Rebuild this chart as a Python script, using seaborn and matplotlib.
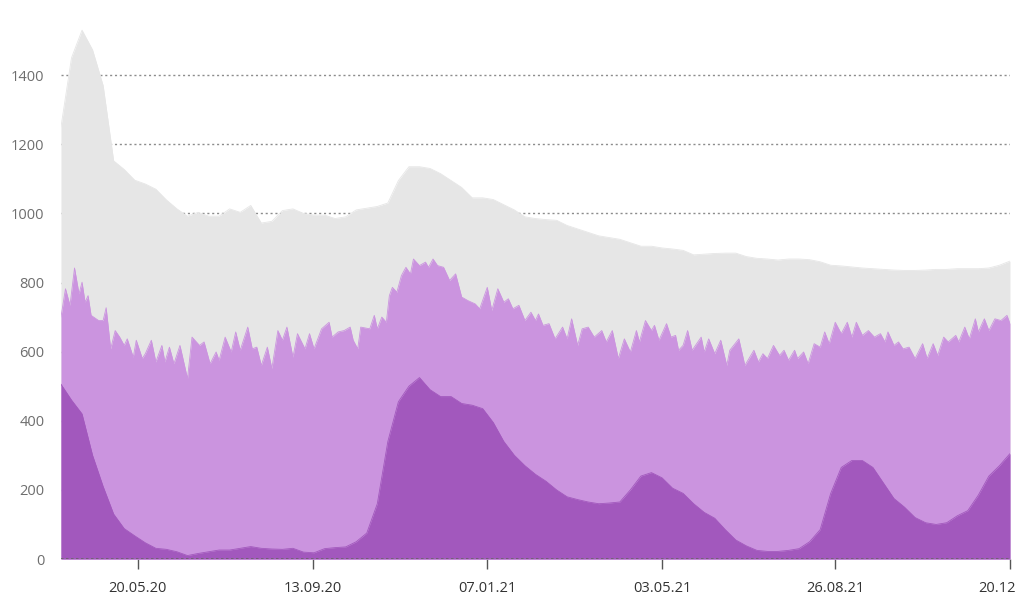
import pandas as pd
import matplotlib.pyplot as plt
import matplotlib.transforms as mtransforms
import seaborn as sns

# ----------------------------
# readings: weekly for total / covid, peaks and dips for occupied
# ----------------------------
START = "2020-03-30"

beds_total = [
    1250, 1450, 1530, 1473, 1370, 1152, 1127, 1096, 1085, 1070, 1039, 1013,
    992, 1003, 992, 992, 1013, 1003, 1023, 972, 977, 1008, 1013,
    1000, 995, 995, 985, 990, 1010, 1015, 1020, 1030, 1095, 1135, 1135,
    1130, 1115, 1095, 1075, 1045, 1045, 1040, 1025, 1010, 990, 985,
    982, 980, 965, 955, 945, 935, 930, 925, 915, 905, 905, 900,
    897, 893, 880, 882, 884, 885, 885, 875, 870, 868, 865,
    868, 868, 866, 860, 850, 848, 845, 842, 840, 838, 836, 835,
    835, 836, 838, 838, 840, 840, 840, 842, 850, 862,
]

beds_covid = [
    506, 460, 420, 300, 210, 130, 88, 67, 47, 31, 28, 21,
    10, 16, 21, 26, 26, 31, 36, 31, 29, 28, 31,
    20, 18, 30, 33, 35, 50, 75, 160, 340, 455, 500, 525,
    490, 470, 470, 450, 445, 435, 395, 340, 300, 270, 245,
    225, 200, 180, 172, 165, 160, 162, 165, 200, 240, 250, 235,
    205, 190, 160, 135, 118, 85, 55, 38, 25, 22, 22,
    25, 30, 50, 85, 190, 265, 285, 285, 265, 220, 175, 150,
    120, 105, 100, 105, 125, 140, 185, 240, 270, 305,
]

occupied_day = [
    0, 3, 6, 9, 12, 14, 16, 18, 20, 25, 28, 30, 33, 36, 39, 42, 44, 48, 50,
    54, 56, 60, 63, 67, 69, 72, 75, 79, 84, 87, 92, 95, 99, 103, 105, 109,
    113, 116, 119, 124, 127, 130, 133, 137, 140, 144, 147, 150, 154, 157,
    162, 165, 168, 173, 178, 180, 184, 188, 192, 194, 197, 199, 205,
    208, 210, 213, 216, 218, 220, 223, 226, 229, 232, 234, 238, 242, 244,
    247, 250, 254, 258, 262, 266, 270, 275, 278, 283, 286, 290, 294, 297,
    300, 304, 308, 312, 315, 317, 320, 324, 328, 333, 336, 339, 343, 346,
    350, 354, 359, 362, 366, 370, 374, 378, 382, 384, 388, 392, 394, 397,
    402, 405, 408, 410, 413,
    416, 419, 425, 427, 430, 434, 438, 442, 444, 450, 454, 458, 460, 463,
    466, 469, 473, 477, 480, 483, 487, 489, 493, 496, 500, 504, 507, 510,
    514, 518, 522, 525, 528, 532, 536, 540, 544, 547, 549, 553, 556, 559,
    563, 567, 572, 575, 579, 582, 586, 589, 594, 596, 600, 603, 607, 609,
    613, 616, 620, 624, 628, 630,
]
beds_occupied = [
    700, 782, 734, 842, 767, 801, 743, 762, 705, 690, 690, 727, 608, 661,
    642, 618, 637, 584, 633, 580, 594, 633, 570, 618, 570, 613, 565, 618,
    522, 642, 618, 628, 565, 599, 575, 642, 599, 657, 604, 671, 608, 613,
    560, 613, 551, 661, 633, 671, 584, 652, 608, 652, 608, 666, 685, 642,
    657, 661, 671, 633, 608, 671, 666,
    705, 666, 700, 685, 762, 786, 772, 820, 844, 825, 868, 849, 859, 844,
    868, 849, 844, 806, 825, 758, 748, 738, 724, 786, 719, 782, 743, 753,
    724, 734, 690, 714, 690, 709, 676, 681, 637, 671, 637, 695, 618, 666,
    671, 642, 661, 628, 661, 580, 637, 599, 661, 628, 690, 661, 676, 633,
    681, 642, 647, 604, 618,
    661, 604, 642, 599, 637, 594, 633, 560, 604, 637, 560, 589, 604, 570,
    594, 580, 618, 589, 604, 575, 604, 580, 599, 565, 623, 613, 657, 623,
    685, 652, 685, 642, 685, 647, 661, 642, 652, 628, 657, 618, 628, 608,
    613, 580, 623, 580, 623, 589, 642, 628, 647, 628, 671, 637, 695, 657,
    695, 661, 695, 690, 705, 681,
]

tick_dates = ["2020-05-20", "2020-09-13", "2021-01-07",
              "2021-05-03", "2021-08-26", "2021-12-20"]
tick_labels = ["20.05.20", "13.09.20", "07.01.21",
               "03.05.21", "26.08.21", "20.12"]
y_ticks = [0, 200, 400, 600, 800, 1000, 1200, 1400]

start = pd.Timestamp(START)
weekly = pd.DataFrame({
    "date": pd.date_range(start, periods=len(beds_total), freq="7D"),
    "total": beds_total,
    "covid": beds_covid,
})
occ = pd.DataFrame({
    "date": start + pd.to_timedelta(occupied_day, unit="D"),
    "occupied": beds_occupied,
})

# ----------------------------
# plot
# ----------------------------
sns.set_theme(style="white")
plt.rcParams["font.family"] = ["Open Sans", "DejaVu Sans"]

fig = plt.figure(figsize=(10.21, 6), dpi=100)
ax = fig.add_axes([0.0597, 0.0683, 0.9295, 0.9217])

layers = [(weekly, "total", "#e6e6e6"),
          (occ, "occupied", "#cb94df"),
          (weekly, "covid", "#a258bd")]
for data, col, colour in layers:
    ax.fill_between(data["date"], 0, data[col], color=colour, linewidth=0, zorder=2)
    sns.lineplot(data=data, x="date", y=col, color=colour, linewidth=0.6,
                 ax=ax, zorder=2)

for y in y_ticks[1:]:
    ax.axhline(y, color="#8c8c8c", linewidth=1, linestyle=(0, (1.5, 2)), zorder=1)
ax.axhline(0, color="#666666", linewidth=1.2, linestyle=(0, (1.5, 1.5)), zorder=4)

ax.set_xlim(weekly["date"].iloc[0], weekly["date"].iloc[-1])
ax.set_ylim(0, 1600)
ax.set_yticks(y_ticks)
ax.set_yticklabels([str(v) for v in y_ticks], color="#6e6e6e", fontsize=10.5)
ax.set_xticks(pd.to_datetime(tick_dates))
ax.set_xticklabels(tick_labels, color="#333333", fontsize=10.5)
ax.tick_params(axis="x", bottom=True, length=7, width=1, color="#555555",
               pad=9, direction="out")
ax.tick_params(axis="y", left=False, length=0, pad=12)
ax.set_xlabel("")
ax.set_ylabel("")
for s in ax.spines.values():
    s.set_visible(False)

# last label sits against the right edge, as in the source
last = ax.get_xticklabels()[-1]
last.set_horizontalalignment("right")
last.set_transform(last.get_transform() +
                   mtransforms.ScaledTranslation(6 / 100, 0, fig.dpi_scale_trans))

plt.savefig("out.png", dpi=100)
